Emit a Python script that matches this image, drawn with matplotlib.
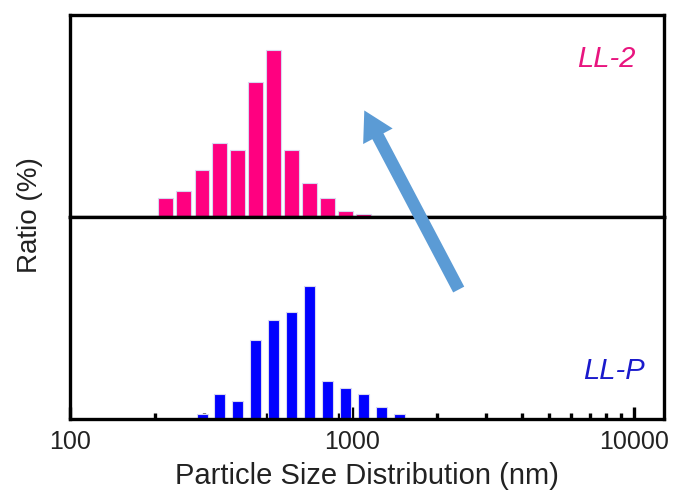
import matplotlib
matplotlib.use("Agg")
import matplotlib.pyplot as plt
import numpy as np
from matplotlib.patches import FancyArrowPatch
from matplotlib.ticker import LogLocator, FixedLocator, NullFormatter

plt.rcParams['font.family'] = ['Liberation Sans', 'DejaVu Sans']

# Particle size bin centres (nm)
sizes_ll2 = [219, 253, 294, 340, 394, 456, 528, 611, 708, 820, 950, 1100, 1273, 1475]
ratio_ll2 = [1.9, 2.6, 4.7, 7.4, 6.7, 13.5, 16.7, 6.7, 3.4, 1.9, 0.6, 0.3, 0.15, 0.15]

sizes_llp = [294, 340, 394, 456, 528, 611, 708, 820, 950, 1100, 1273, 1475]
ratio_llp = [0.5, 2.5, 1.8, 7.9, 9.9, 10.6, 13.2, 3.8, 3.1, 2.5, 1.2, 0.5]

xticks = [100, 1000, 10000]
xticklabels = ['100', '1000', '10000']

pink = '#FF0080'
blue = '#0000FF'
text_color = '#222222'

def log_bars(ax, centers, vals, wdec, color):
    c = np.array(centers, dtype=float)
    left = c * 10 ** (-wdec / 2)
    right = c * 10 ** (wdec / 2)
    ax.bar(left, vals, width=right - left, align='edge', color=color,
           edgecolor='#d8d8f0', linewidth=0.8, zorder=2)

fig = plt.figure(figsize=(6.74, 4.95), dpi=100)
ax_top = fig.add_axes([70 / 674, (495 - 217) / 495, 594 / 674, 202 / 495])
ax_bot = fig.add_axes([70 / 674, (495 - 419) / 495, 594 / 674, 202 / 495], sharex=ax_top)

for ax in (ax_top, ax_bot):
    ax.set_xscale('log')
    ax.set_xlim(100, 12800)
    for s in ax.spines.values():
        s.set_linewidth(2.4)
        s.set_color('black')
    ax.set_yticks([])

log_bars(ax_top, sizes_ll2, ratio_ll2, 0.053, pink)
log_bars(ax_bot, sizes_llp, ratio_llp, 0.039, blue)
ax_top.set_ylim(0, 20.2)
ax_bot.set_ylim(0, 20.1)

ax_top.tick_params(axis='x', which='both', bottom=False, labelbottom=False)
ax_top.spines['bottom'].set_zorder(3)

ax_bot.xaxis.set_major_locator(FixedLocator(xticks))
ax_bot.set_xticklabels(xticklabels)
ax_bot.xaxis.set_minor_locator(LogLocator(base=10, subs=np.arange(2, 10)))
ax_bot.xaxis.set_minor_formatter(NullFormatter())
ax_bot.tick_params(axis='x', which='major', direction='in', length=9, width=2.4,
                   labelsize=18, pad=8, labelcolor=text_color)
ax_bot.tick_params(axis='x', which='minor', direction='in', length=4, width=2.4)
ax_bot.set_xlabel('Particle Size Distribution (nm)', fontsize=21, labelpad=6,
                  color=text_color)

fig.text(30 / 674, 1 - 215 / 495, 'Ratio (%)', rotation=90, fontsize=20,
         ha='center', va='center', color=text_color)

fig.text(636 / 674, 1 - 59 / 495, 'LL-2', fontsize=21,
         style='italic', color='#E8157F', ha='right', va='center')
fig.text(645 / 674, 1 - 371 / 495, 'LL-P', fontsize=21,
         style='italic', color='#1A1ACC', ha='right', va='center')

arrow = FancyArrowPatch((460 / 674, 1 - 292 / 495), (363 / 674, 1 - 108 / 495),
                        transform=fig.transFigure, figure=fig,
                        arrowstyle='simple, head_length=2.1, head_width=2.4, tail_width=0.9',
                        mutation_scale=10, color='#5B9BD5', linewidth=0, zorder=10)
fig.patches.append(arrow)

fig.savefig('out.png', dpi=100)
